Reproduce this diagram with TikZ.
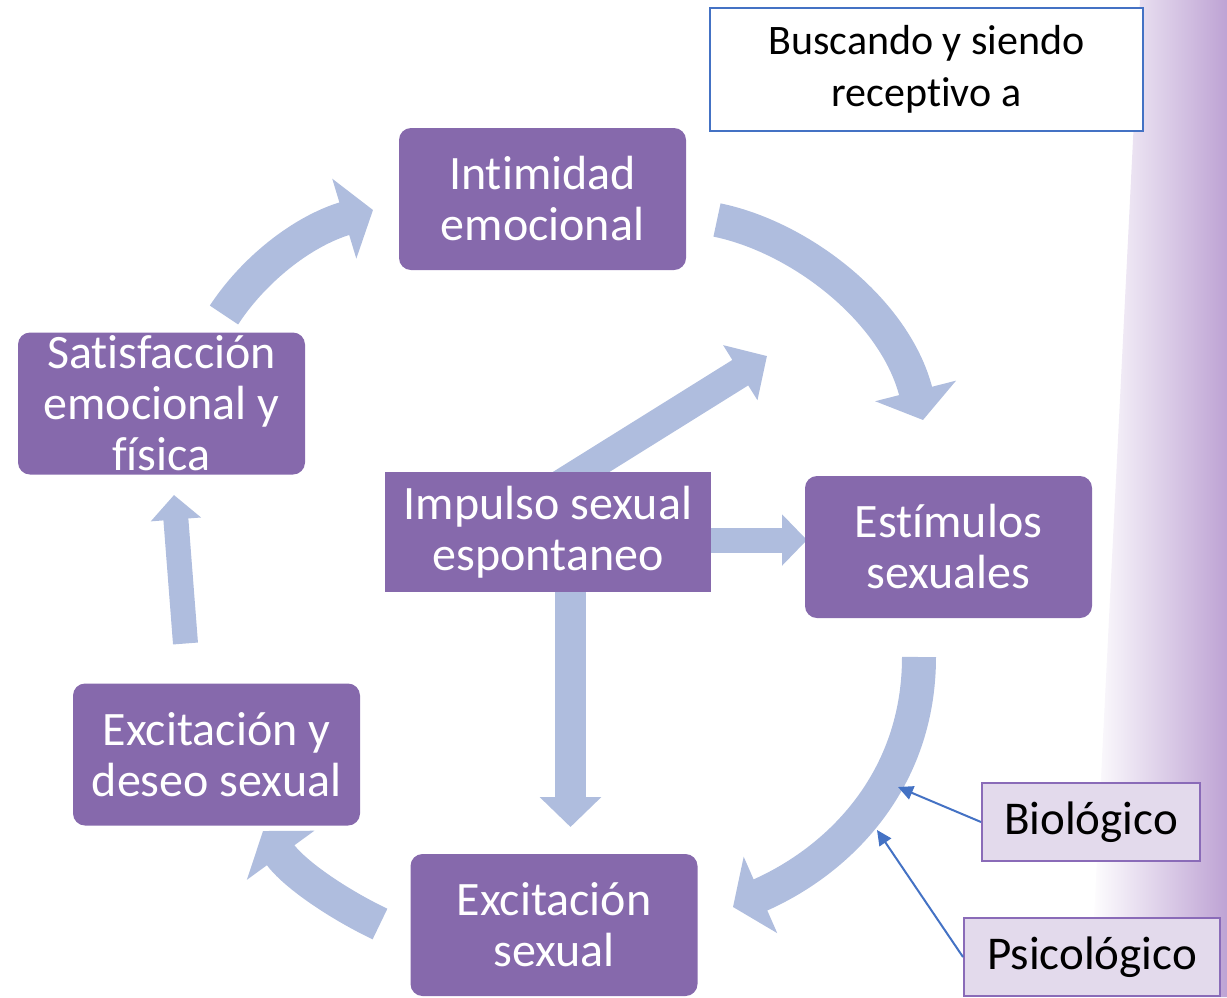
\documentclass[tikz,border=0pt]{standalone}
\usepackage{fontspec}
\setmainfont{Carlito}[RawFeature={-liga,-clig,-calt,-dlig}]
\usetikzlibrary{arrows.meta,backgrounds}

\definecolor{boxpurple}{HTML}{8669AC}
\definecolor{flowblue}{HTML}{AFBDDE}
\definecolor{linkblue}{HTML}{4472C4}
\definecolor{tagfill}{HTML}{E3DAEC}
\definecolor{tagline}{HTML}{8A6BB8}
\definecolor{lavlight}{HTML}{D8CBE6}
\definecolor{lavdark}{HTML}{BEA3D4}

\tikzset{
  stage/.style={fill=boxpurple, text=white, rounded corners=6pt,
    minimum width=143.5pt, minimum height=71pt, inner sep=0pt,
    align=center, font=\fontsize{24}{25.5}\selectfont},
  source/.style={stage, sharp corners, minimum width=163pt, minimum height=60pt},
  note/.style={draw=linkblue, line width=1pt, fill=white,
    minimum width=216.5pt, minimum height=61.5pt, inner sep=0pt,
    align=center, font=\fontsize{21}{26}\selectfont},
  tag/.style={draw=tagline, line width=1pt, fill=tagfill, minimum height=39pt,
    inner sep=0pt, font=\fontsize{23.5}{26}\selectfont},
  cycle/.style={flowblue, line width=17pt, -{Triangle[width=41pt,length=15pt]}},
  push/.style={flowblue, -{Triangle[width=#1,length=0.5*#1]}},
  link/.style={linkblue, line width=1pt, -{Triangle[width=7pt,length=7.5pt]}}
}

\begin{document}
\begin{tikzpicture}[x=0.5pt, y=-0.5pt]

\useasboundingbox (0,0) rectangle (1227,997);

% Right edge backdrop
\shade[left color=white, middle color=lavlight, right color=lavdark]
  (1140,0) -- (1227,0) -- (1227,997) -- (1090,997) -- cycle;

% Stages
\node[stage] (intimidad) at (542.5,199) {Intimidad\\emocional};
\node[stage] (estimulos) at (948.5,547) {Estímulos\\sexuales};
\node[stage] (excitacion) at (554,925) {Excitación\\sexual};
\node[stage] (deseo) at (216.5,754.5) {Excitación y\\deseo sexual};
\node[stage] (satisfaccion) at (161.5,403.5) {Satisfacción\\emocional y\\física};
\node[source] (impulso) at (548,532) {Impulso sexual\\espontaneo};

% Note and tags
\node[note] (buscando) at (926.5,69.5) {Buscando y siendo\\receptivo a};
\node[tag, minimum width=109pt] (biologico) at (1091,822) {Biológico};
\node[tag, minimum width=128pt] (psicologico) at (1092,957) {Psicológico};

% Arrow ends
\coordinate (tailA) at (717,220);
\coordinate (tipA) at (923,420);
\coordinate (tailB) at (919,657);
\coordinate (tipB) at (733,907);
\coordinate (tailC) at (380,924);
\coordinate (tipC) at (263,831);
\coordinate (tailD) at (185.5,643.5);
\coordinate (tipD) at (174,495);
\coordinate (tailE) at (224,315);
\coordinate (tipE) at (373,210);
\coordinate (tipF) at (767,356);
\coordinate (tipG) at (807,540);
\coordinate (tipH) at (570.5,827);
\coordinate (hitBio) at (898,787);
\coordinate (hitPsico) at (877,830);

\begin{pgfonlayer}{background}

% Cycle
\draw[cycle] (tailA) .. controls (800,237) and (895,310) .. (tipA);
\draw[cycle] (tailB) .. controls (919,780) and (840,860) .. (tipB);
\draw[cycle] (tailC) .. controls (340,905) and (295,875) .. (tipC);
\draw[push=24.5pt, line width=12.5pt] (tailD) -- (tipD);
\draw[cycle] (tailE) .. controls (252,272) and (300,232) .. (tipE);

% From impulso
\draw[push=31.5pt, line width=15pt] (impulso.center) ++(-7,-35) -- (tipF);
\draw[push=25pt, line width=12.5pt] (impulso.center) ++(0,8) -- (tipG);
\draw[push=30pt, line width=15.5pt] (impulso.center) ++(22.5,0) -- (tipH);

\end{pgfonlayer}

% Influences
\draw[link] (biologico.west) -- (hitBio);
\draw[link] (psicologico.west) -- (hitPsico);

\end{tikzpicture}
\end{document}
